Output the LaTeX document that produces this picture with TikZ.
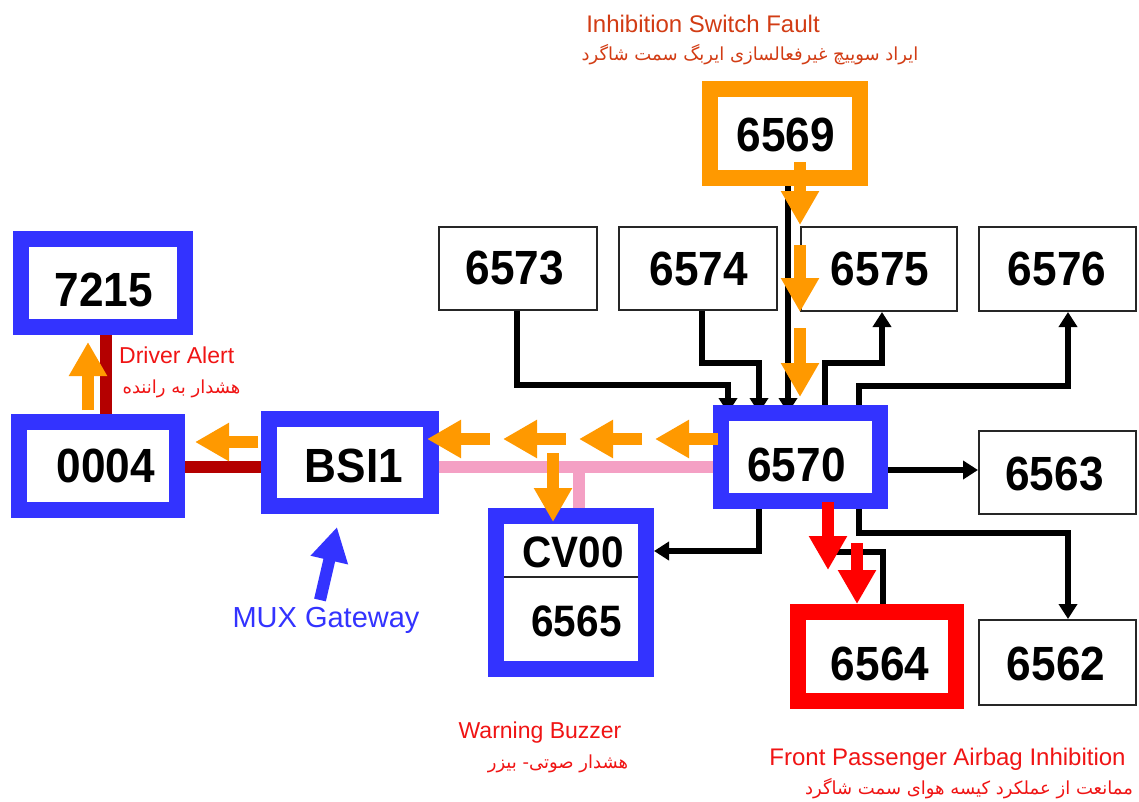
\documentclass[tikz,border=0pt]{standalone}
\usepackage{fontspec}
\setmainfont{Liberation Sans}
\newfontfamily\numfont[FakeStretch=0.92]{Liberation Sans Bold}
\newfontfamily\fa[Script=Arabic]{DejaVu Sans}
\TeXXeTstate=1
\usetikzlibrary{arrows.meta}
\definecolor{mblue}{RGB}{51,51,255}
\definecolor{morange}{RGB}{255,153,0}
\definecolor{mred}{RGB}{255,0,0}
\definecolor{dred}{RGB}{180,0,0}
\definecolor{mpink}{RGB}{244,160,196}
\definecolor{tred}{RGB}{240,20,20}
\definecolor{torange}{RGB}{210,60,20}
\begin{document}
\begin{tikzpicture}[x=1pt,y=-1pt,
  box/.style={inner sep=0pt, fill=white},
  thinbox/.style={box, draw=black!85, line width=2pt},
  bluebox/.style={box, draw=mblue, line width=16pt},
  orangebox/.style={box, draw=morange, line width=16pt},
  redbox/.style={box, draw=mred, line width=16pt},
  numtxt/.style={inner sep=0pt, font=\numfont\fontsize{48}{48}\selectfont},
  smalltxt/.style={inner sep=0pt, font=\numfont\fontsize{44}{44}\selectfont},
  conn/.style={line width=6.5pt, black},
  tip/.style={-{Triangle[length=15pt,width=18pt]}},
  fat/.style={line width=12pt, -{Triangle[length=34pt,width=36pt]}},
  bus/.style={line width=12pt},
  lbl/.style={inner sep=0pt, font=\fontsize{23}{23}\selectfont},
  falbl/.style={inner sep=0pt, font=\fa\fontsize{18}{18}\selectfont},
]
\useasboundingbox (0,0) rectangle (1139,801);
\fill[white] (0,0) rectangle (1139,801);

% ---------- thin boxes and the 6569 box ----------
\node[orangebox, minimum width=150pt, minimum height=89pt] (n6569) at (785,133.5) {};
\node[thinbox, minimum width=158pt, minimum height=83pt] (n6573) at (518,268.5) {};
\node[thinbox, minimum width=158pt, minimum height=83pt] (n6574) at (698,268.5) {};
\node[thinbox, minimum width=156pt, minimum height=84pt] (n6575) at (879,269) {};
\node[thinbox, minimum width=157pt, minimum height=84pt] (n6576) at (1057.5,269) {};
\node[thinbox, minimum width=157pt, minimum height=83pt] (n6563) at (1057.5,472.5) {};
\node[thinbox, minimum width=157pt, minimum height=85pt] (n6562) at (1057.5,662.5) {};

% ---------- black connectors into 6570 (partly hidden by its border) ----------
\draw[conn, tip] (n6573.south -| 517,0) |- (728,385) -- (728,413);
\draw[conn, tip] (n6574.south -| 702,0) |- (759,363) -- (759,413);
\draw[conn, tip] (n6569.south -| 788,0) -- (788,413);

% ---------- thick boxes ----------
\node[bluebox, minimum width=159pt, minimum height=88pt] (n6570) at (800.5,457) {};
\node[redbox, minimum width=158pt, minimum height=89pt] (n6564) at (877,656.5) {};
\node[bluebox, minimum width=150pt, minimum height=153pt] (ncv) at (571,592.5) {};
\node[bluebox, minimum width=162pt, minimum height=87pt] (nbsi) at (350,462.5) {};
\node[bluebox, minimum width=158pt, minimum height=88pt] (n0004) at (98,466) {};
\node[bluebox, minimum width=164pt, minimum height=88pt] (n7215) at (103,283) {};
\draw[black!85, line width=2pt] (ncv.west |- 0,577) ++(16pt,0) -- ([xshift=-16pt]ncv.east |- 0,577);

% ---------- box texts ----------
\node[numtxt] (t6569) at (786,135) {6569};
\node[numtxt] (t6573) at (515,268.5) {6573};
\node[numtxt] (t6574) at (699,268.5) {6574};
\node[numtxt] (t6575) at (880,268.5) {6575};
\node[numtxt] (t6576) at (1057,268.5) {6576};
\node[numtxt] (t6570) at (796.5,465) {6570};
\node[numtxt] (t6563) at (1054.5,474.5) {6563};
\node[numtxt] (t6564) at (880,663.5) {6564};
\node[numtxt] (t6562) at (1056,663.5) {6562};
\node[numtxt] (t7215) at (104,290) {7215};
\node[numtxt] (t0004) at (106,466) {0004};
\node[numtxt] (tbsi) at (354,466) {BSI1};
\node[smalltxt] (tcv) at (573,552) {CV00};
\node[smalltxt] (t6565) at (576.5,621) {6565};

% ---------- black connectors out of 6570 ----------
\draw[conn, tip] (n6570.north -| 825,0) |- (882,363) -- (n6575.south -| 882,0);
\draw[conn, tip] (n6570.north -| 859,0) |- (1068,386) -- (n6576.south -| 1068,0);
\draw[conn, tip] (n6570.east |- 0,470) -- (n6563.west |- 0,470);
\draw[conn, tip] (n6570.south -| 759,0) |- (ncv.east |- 0,551);
\draw[conn] (n6570.south -| 830,0) |- (883,552) -- (n6564.north -| 883,0);
\draw[conn, tip] (n6570.south -| 859,0) |- (1068,533) -- (n6562.north -| 1068,0);

% ---------- bus lines ----------
\draw[bus, mpink] (nbsi.east |- 0,467) -- (n6570.west |- 0,467);
\draw[bus, mpink] (579,467) -- (ncv.north -| 579,0);
\draw[bus, dred] (n7215.south -| 106,0) -- (n0004.north -| 106,0);
\draw[bus, dred] (n0004.east |- 0,467) -- (nbsi.west |- 0,467);

% ---------- fat indicator arrows ----------
\draw[fat, morange] (800,162) -- (800,225);
\draw[fat, morange] (800,245) -- (800,312);
\draw[fat, morange] (800,328) -- (800,397);
\draw[fat, morange] (718,439) -- (655,439);
\draw[fat, morange] (642,439) -- (579,439);
\draw[fat, morange] (566,439) -- (503,439);
\draw[fat, morange] (490,439) -- (427,439);
\draw[fat, morange] (258,442) -- (195,442);
\draw[fat, morange] (553,453) -- (553,522);
\draw[fat, morange] (88,410) -- (88,342);
\draw[fat, mred] (828,502) -- (828,570);
\draw[fat, mred] (857,543) -- (857,604);
\draw[fat, mblue] (320,600) -- (337,527);

% ---------- labels ----------
\node[lbl, anchor=base, text=torange, font=\fontsize{24}{24}\selectfont] (tinh) at (703,32) {Inhibition Switch Fault};
\node[falbl, text=torange] (tinhfa) at (750,55) {\beginR ایراد سوییچ غیرفعالسازی ایربگ سمت شاگرد\endR};
\node[lbl, anchor=base west, text=tred] (tdrv) at (119,363) {Driver Alert};
\node[falbl, text=tred] (tdrvfa) at (181.5,389) {\beginR هشدار به راننده\endR};
\node[lbl, anchor=base, text=mblue, font=\fontsize{29}{29}\selectfont] (tmux) at (326,627) {MUX Gateway};
\node[lbl, anchor=base, text=tred] (twarn) at (540,738) {Warning Buzzer};
\node[falbl, text=tred] (twarnfa) at (558,764) {\beginR هشدار صوتی- بیزر\endR};
\node[lbl, anchor=base, text=tred, font=\fontsize{24}{24}\selectfont] (tfront) at (947.5,765) {Front Passenger Airbag Inhibition};
\node[falbl, text=tred] (tfrontfa) at (969,789) {\beginR ممانعت از عملکرد کیسه هوای  سمت شاگرد\endR};
\end{tikzpicture}
\end{document}
